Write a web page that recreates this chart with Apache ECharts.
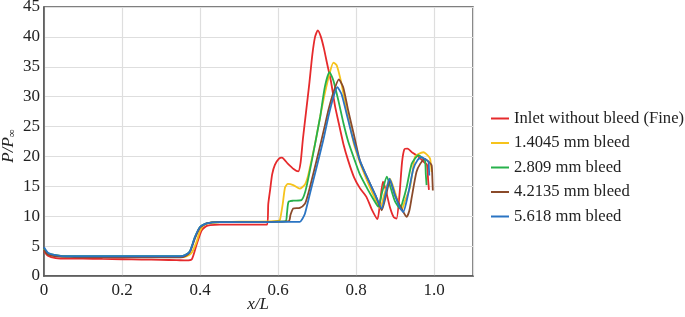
<!DOCTYPE html>
<html>
<head>
<meta charset="utf-8">
<script src="https://cdn.jsdelivr.net/npm/echarts@6/dist/echarts.min.js"></script>
<style>
  html, body { margin: 0; padding: 0; background: #fff; }
  #chart { width: 685px; height: 317px; }
</style>
</head>
<body>
<div id="chart"></div>
<script>
// series names (legend order)
const seriesNames = [
  "Inlet without bleed (Fine)",
  "1.4045 mm bleed",
  "2.809 mm bleed",
  "4.2135 mm bleed",
  "5.618 mm bleed"
];
const seriesColors = ["#e62a2c", "#f6c31c", "#27b14b", "#8a4a2a", "#2a74c3"];

// [x/L, P/Pinf]
const noBleed = [
  [0,4.2],[0.01,3.4],[0.03,3.0],[0.06,2.9],[0.1,2.9],[0.15,2.85],[0.2,2.8],[0.25,2.75],[0.3,2.7],
  [0.34,2.65],[0.365,2.6],[0.379,2.8],[0.391,5.2],[0.404,7.6],[0.415,8.3],[0.426,8.5],[0.45,8.6],
  [0.5,8.6],[0.55,8.6],[0.572,8.6],[0.575,12],[0.58,14.5],[0.585,17],[0.592,18.6],[0.602,19.6],
  [0.61,19.8],[0.625,18.8],[0.64,17.9],[0.652,17.5],[0.658,19],[0.664,23],[0.672,27.5],[0.68,32],
  [0.688,37],[0.695,40],[0.702,41.1],[0.71,40],[0.718,38],[0.726,35.5],[0.736,32.5],[0.746,28.5],
  [0.756,25.5],[0.768,22],[0.78,19.3],[0.795,16.5],[0.81,14.7],[0.827,13.2],[0.84,11.2],[0.855,9.5],
  [0.862,12.5],[0.869,15.8],[0.876,14.5],[0.887,11.5],[0.897,9.8],[0.904,9.6],[0.912,14],[0.918,19],
  [0.924,21.2],[0.932,21.3],[0.945,20.6],[0.96,20],[0.975,19],[0.982,18.6],[0.985,16],[0.987,14.4]
];
const bleed14 = [
  [0,4.5],[0.01,3.7],[0.03,3.4],[0.06,3.3],[0.1,3.2],[0.2,3.2],[0.3,3.2],[0.35,3.2],[0.365,3.3],
  [0.378,3.8],[0.39,5.5],[0.4,7.5],[0.41,8.5],[0.425,8.9],[0.45,9.0],[0.5,9.1],[0.55,9.1],[0.6,9.2],
  [0.605,9.4],[0.612,12],[0.618,14.8],[0.625,15.4],[0.639,15.2],[0.656,14.6],[0.669,15.3],[0.676,16.5],
  [0.682,18.2],[0.695,22.1],[0.708,26.6],[0.72,30.5],[0.732,33.8],[0.742,35.7],[0.75,35.3],[0.755,34.3],
  [0.763,32.1],[0.775,28],[0.785,25],[0.795,22],[0.81,19],[0.825,16.5],[0.84,14.2],[0.85,12.8],
  [0.862,11.3],[0.872,13.5],[0.887,16.3],[0.9,14],[0.91,12],[0.917,11],[0.925,12.5],[0.938,14.7],
  [0.945,17.5],[0.951,19.9],[0.96,20.4],[0.973,20.7],[0.985,20.1],[0.99,19.6],[0.993,18],[0.994,17.4]
];
const bleed28 = [
  [0,4.6],[0.01,3.8],[0.03,3.5],[0.06,3.3],[0.1,3.3],[0.2,3.3],[0.3,3.3],[0.35,3.3],[0.362,3.5],
  [0.374,4.1],[0.387,6.5],[0.4,8.2],[0.417,8.8],[0.45,9.0],[0.5,9.0],[0.55,9.0],[0.6,9.1],[0.62,9.2],
  [0.623,10.5],[0.627,12.4],[0.639,12.6],[0.66,12.7],[0.667,13.5],[0.674,15.2],[0.69,20.4],[0.708,26.6],
  [0.72,31.6],[0.732,34.1],[0.742,32.7],[0.755,29.3],[0.768,25.5],[0.78,22.5],[0.797,19.3],[0.81,17],
  [0.83,14.5],[0.845,12.8],[0.857,11.6],[0.867,14],[0.879,16.6],[0.89,14.5],[0.9,12.5],[0.913,11.3],
  [0.92,12.5],[0.93,14.9],[0.943,18.8],[0.96,20.2],[0.97,19.8],[0.977,19.3],[0.979,17],[0.981,15.2]
];
const bleed42 = [
  [0,4.4],[0.01,3.6],[0.03,3.3],[0.06,3.2],[0.1,3.1],[0.2,3.1],[0.3,3.1],[0.35,3.1],[0.362,3.3],
  [0.374,4.0],[0.387,6.3],[0.4,8.1],[0.417,8.8],[0.45,9.0],[0.5,9.0],[0.55,9.0],[0.6,9.1],[0.628,9.2],
  [0.632,10.2],[0.639,11.3],[0.656,11.4],[0.669,12.1],[0.675,13.2],[0.682,14.9],[0.703,20.4],[0.721,25.4],
  [0.729,27.7],[0.742,30.7],[0.756,32.9],[0.767,31.6],[0.78,27.7],[0.795,23.5],[0.81,19.3],[0.825,17],
  [0.85,13.5],[0.866,11],[0.877,13.5],[0.887,16],[0.9,13.5],[0.915,11.5],[0.93,9.9],[0.937,11],
  [0.943,13.2],[0.955,17.4],[0.965,18.8],[0.977,19.6],[0.988,19],[0.994,18.5],[0.996,16],[0.997,14.3]
];
const bleed56 = [
  [0,4.8],[0.01,3.9],[0.03,3.5],[0.06,3.3],[0.1,3.3],[0.2,3.3],[0.3,3.3],[0.35,3.3],[0.362,3.5],
  [0.374,4.1],[0.387,6.5],[0.4,8.2],[0.417,8.8],[0.45,9.0],[0.5,9.0],[0.55,9.0],[0.6,9.05],[0.656,9.05],
  [0.662,9.5],[0.669,10.4],[0.682,13.8],[0.699,18.2],[0.716,22.7],[0.729,26.6],[0.742,29.9],[0.752,31.6],
  [0.763,30.4],[0.776,27.1],[0.79,23.5],[0.81,19.3],[0.825,17],[0.85,13.5],[0.866,11.3],[0.876,13.8],
  [0.886,16.3],[0.9,13.5],[0.912,11.5],[0.921,10.7],[0.934,13.8],[0.947,17.9],[0.958,19.4],[0.968,19.9],
  [0.978,19.5],[0.986,19.1],[0.987,18],[0.988,16.8]
];
const allData = [noBleed, bleed14, bleed28, bleed42, bleed56];

const font = "'Times New Roman', 'Liberation Serif', serif";

const chart = echarts.init(document.getElementById("chart"), null, { renderer: "canvas" });

const seriess = allData.map(function (d, i) {
  return {
    name: seriesNames[i],
    type: "line",
    data: d,
    showSymbol: false,
    smooth: 0.2,
    color: seriesColors[i],
    lineStyle: { width: 1.8, color: seriesColors[i] }
  };
});

const option = {
  animation: false,
  textStyle: { fontFamily: font },
  grid: {
    left: 44, right: 212, top: 7, bottom: 41,
    outerBoundsMode: "none",
    containLabel: false,
    show: true,
    borderColor: "#555",
    borderWidth: 1.5
  },
  legend: {
    orient: "vertical",
    left: 486,
    top: 105,
    icon: "rect",
    itemWidth: 18,
    itemHeight: 2,
    itemGap: 7.5,
    textStyle: { fontFamily: font, fontSize: 16.6, color: "#222" },
    data: seriesNames
  },
  // axis titles
  graphic: [
    {
      type: "text",
      x: 258, y: 305,
      style: {
        text: "x/L",
        font: "italic 17px " + font,
        fill: "#222",
        align: "center",
        verticalAlign: "middle"
      }
    },
    {
      type: "text",
      x: 9, y: 146,
      rotation: Math.PI / 2,
      style: {
        text: "{i|P/P}{s|∞}",
        align: "center",
        verticalAlign: "middle",
        rich: {
          i: { fontFamily: font, fontSize: 17, fontStyle: "italic", fill: "#222" },
          s: { fontFamily: font, fontSize: 11, fill: "#222", padding: [7, 0, 0, 0] }
        }
      }
    }
  ],
  xAxis: {
    type: "value",
    min: 0,
    max: 1.1,
    interval: 0.2,
    axisLine: { show: true, lineStyle: { color: "#555", width: 1.5 } },
    axisTick: { show: false },
    splitLine: { show: true, lineStyle: { color: "#dedede", width: 1.2 } },
    axisLabel: {
      fontFamily: font, fontSize: 17, color: "#222", margin: 6,
      showMaxLabel: false,
      formatter: function (v) { return v === 0 ? "0" : v.toFixed(1); }
    }
  },
  yAxis: {
    type: "value",
    min: 0,
    max: 45,
    interval: 5,
    axisLine: { show: true, lineStyle: { color: "#555", width: 1.5 } },
    axisTick: { show: false },
    splitLine: { show: true, lineStyle: { color: "#dedede", width: 1.2 } },
    axisLabel: { fontFamily: font, fontSize: 17, color: "#222", margin: 4 }
  },
  series: seriess
};
chart.setOption(option);
</script>
</body>
</html>
